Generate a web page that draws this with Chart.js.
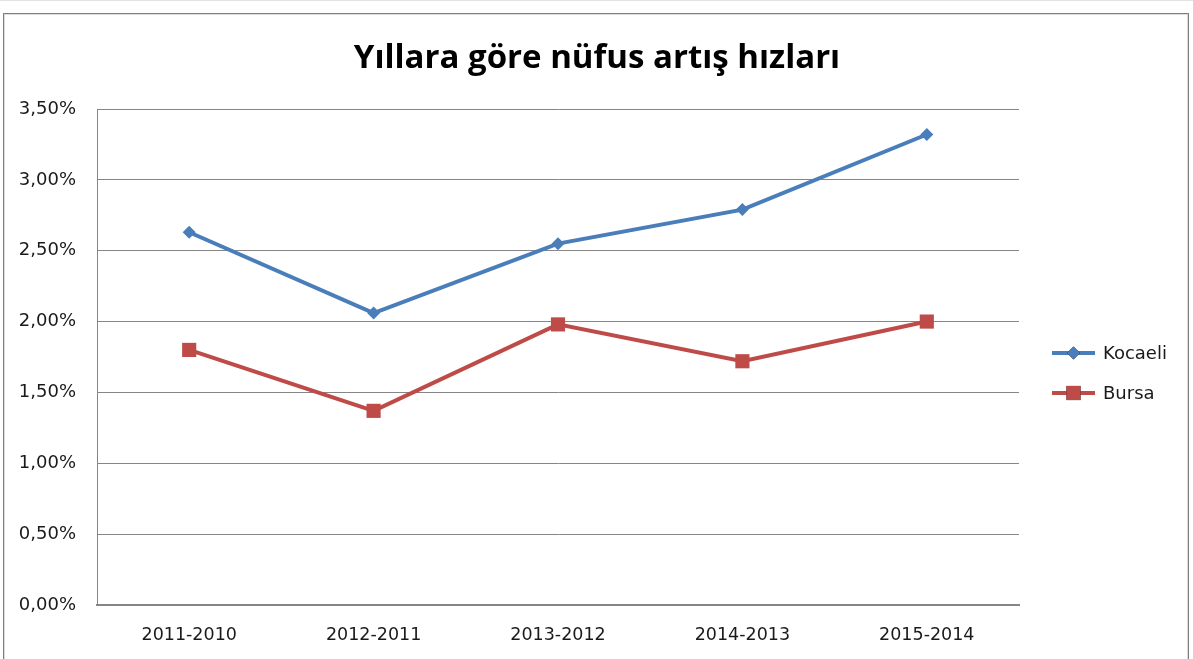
<!DOCTYPE html>
<html lang="tr">
<head>
    <meta charset="UTF-8">
    <title>Yıllara göre nüfus artış hızları</title>
    <script src="https://cdn.jsdelivr.net/npm/chart.js"></script>
    <style>
        html, body { margin: 0; padding: 0; background: #fff; }
        body { width: 1193px; height: 659px; overflow: hidden; position: relative; border-top: 1px solid #e3e3e3; box-sizing: border-box; }
        .frame {
            position: absolute; left: 3px; top: 12px; width: 1184px; height: 660px;
            border: 1px solid #7f7f7f; box-shadow: inset 0 0 0 1px #dcdcdc;
        }
        #wrap { position: absolute; left: 0; top: 0; width: 1193px; height: 659px; }
    </style>
</head>
<body>
    <div class="frame"></div>
    <div id="wrap"><canvas id="growthChart"></canvas></div>

    <script>
        const chartTitle = 'Yıllara göre nüfus artış hızları';
        const periods = ['2011-2010', '2012-2011', '2013-2012', '2014-2013', '2015-2014'];
        const kocaeli = [2.63, 2.06, 2.55, 2.79, 3.32];
        const bursa = [1.80, 1.37, 1.98, 1.72, 2.00];
        const seriesNames = ['Kocaeli', 'Bursa'];

        const blue = '#4a7ebb';
        const red = '#be4b48';
        const gridGray = '#868686';

        // title and legend drawn by hand so they sit where Excel put them
        const decorations = {
            id: 'decorations',
            afterDraw(chart) {
                const c = chart.ctx;
                c.save();
                c.fillStyle = '#000';
                c.font = 'bold 33px "Open Sans"';
                c.textAlign = 'center';
                c.textBaseline = 'alphabetic';
                c.fillText(chartTitle, 597, 67);

                chart.data.datasets.forEach((ds, i) => {
                    const y = 352 + i * 40;
                    c.strokeStyle = ds.borderColor;
                    c.lineWidth = 4;
                    c.beginPath();
                    c.moveTo(1052, y);
                    c.lineTo(1095, y);
                    c.stroke();
                    Chart.helpers.drawPoint(c, {
                        pointStyle: ds.pointStyle,
                        radius: ds.pointRadius,
                        borderWidth: 0
                    }, 1073.5, y);
                    c.fillStyle = ds.borderColor;
                    c.fill();
                    c.fillStyle = '#1a1a1a';
                    c.font = '18px "DejaVu Sans"';
                    c.textAlign = 'left';
                    c.textBaseline = 'middle';
                    c.fillText(ds.label, 1103, y + 1);
                });
                c.restore();
            }
        };

        new Chart(document.getElementById('growthChart'), {
            type: 'line',
            data: {
                labels: periods,
                datasets: [{
                    label: seriesNames[0],
                    data: kocaeli,
                    borderColor: blue,
                    backgroundColor: blue,
                    borderWidth: 4,
                    pointStyle: 'rectRot',
                    pointRadius: 6.5,
                    pointBorderWidth: 0,
                    tension: 0
                }, {
                    label: seriesNames[1],
                    data: bursa,
                    borderColor: red,
                    backgroundColor: red,
                    borderWidth: 4,
                    pointStyle: 'rect',
                    pointRadius: 10,
                    pointBorderWidth: 0,
                    tension: 0
                }]
            },
            options: {
                responsive: true,
                maintainAspectRatio: false,
                animation: false,
                layout: { padding: { left: 7, right: 174, top: 108, bottom: 0 } },
                plugins: {
                    legend: { display: false },
                    title: { display: false },
                    tooltip: { enabled: false }
                },
                scales: {
                    x: {
                        offset: true,
                        afterFit: s => { s.height = 55; },
                        grid: { display: false, drawTicks: false },
                        border: { display: true, color: gridGray, width: 2 },
                        ticks: {
                            padding: 20,
                            color: '#1a1a1a',
                            maxRotation: 0,
                            font: { family: '"DejaVu Sans"', size: 17.5 }
                        }
                    },
                    y: {
                        min: 0,
                        max: 3.5,
                        afterFit: s => { s.width = 90; },
                        grid: { color: gridGray, lineWidth: 1, drawTicks: false },
                        border: { display: true, color: gridGray, width: 1 },
                        ticks: {
                            stepSize: 0.5,
                            padding: 21,
                            color: '#1a1a1a',
                            font: { family: '"DejaVu Sans"', size: 18 },
                            callback: v => v.toFixed(2).replace('.', ',') + '%'
                        }
                    }
                }
            },
            plugins: [decorations]
        });
    </script>
</body>
</html>
